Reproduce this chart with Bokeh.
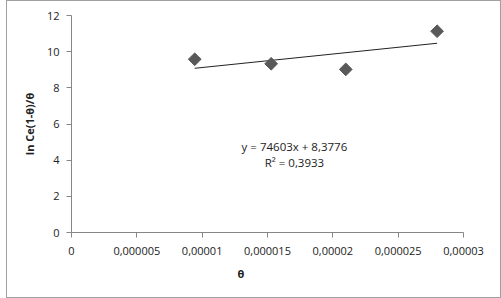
import numpy as np
from bokeh.plotting import figure
from bokeh.models import FixedTicker, Label, Range1d, Title
from bokeh.embed import file_html
from bokeh.resources import INLINE

# data
theta = [0.00000943, 0.00001528, 0.00002099, 0.00002798]
ln_ce = [9.58, 9.33, 9.02, 11.13]

# trendline as stated on the chart
slope = 74603
intercept = 8.3776
r2_text = "0,3933"
eq_text = "y = 74603x + 8,3776"

x_ticks = [0, 0.000005, 0.00001, 0.000015, 0.00002, 0.000025, 0.00003]
x_tick_labels = ["0", "0,000005", "0,00001", "0,000015", "0,00002", "0,000025", "0,00003"]
y_ticks = [0, 2, 4, 6, 8, 10, 12]

FONT = "Open Sans"
GRAY = "#868686"

p = figure(width=493, height=296, output_backend="svg", toolbar_location=None,
           x_range=Range1d(0, 0.00003), y_range=Range1d(0, 12),
           frame_width=392, frame_height=217,
           min_border_left=64, min_border_right=37, min_border_top=14, min_border_bottom=65)
p.margin = (0, 0, 0, 6)
p.styles = {"border": "1.5px solid #a0a0a0", "box-sizing": "border-box"}
p.outline_line_color = None
p.grid.visible = False
p.background_fill_color = "white"
p.border_fill_color = "white"

p.xaxis.ticker = FixedTicker(ticks=x_ticks)
p.xaxis.major_label_overrides = {t: l for t, l in zip(x_ticks, x_tick_labels)}
p.yaxis.ticker = FixedTicker(ticks=y_ticks)
for ax in (p.xaxis, p.yaxis):
    ax.axis_line_color = GRAY
    ax.major_tick_line_color = GRAY
    ax.major_tick_out = 5
    ax.major_tick_in = 0
    ax.minor_tick_line_color = None
    ax.major_label_text_font = FONT
    ax.major_label_text_font_size = "11px"
    ax.major_label_text_color = "#222222"
p.xaxis.major_label_standoff = 9
p.yaxis.major_label_standoff = 7

p.yaxis.axis_label = "ln Ce(1-θ)/θ"
p.yaxis.axis_label_text_font = FONT
p.yaxis.axis_label_text_font_size = "11px"
p.yaxis.axis_label_text_font_style = "bold"
p.yaxis.axis_label_text_color = "#222222"
p.yaxis.axis_label_standoff = 7

p.add_layout(Title(text="θ", align="left", offset=166, text_font=FONT,
                   text_font_size="11px", text_font_style="bold",
                   text_color="#222222", standoff=13), "below")

# trendline from the stated coefficients over the data span
xs = np.array([min(theta), max(theta)])
p.line(xs, slope * xs + intercept, line_color="#222222", line_width=1)

p.scatter(theta, ln_ce, marker="square", angle=np.pi / 4, size=9,
          fill_color="#595959", line_color="#595959")

p.add_layout(Label(x=0.00001706, y=4.75, text=eq_text, text_align="center",
                   text_baseline="middle", text_font=FONT, text_font_size="11.5px",
                   text_color="#222222"))
p.add_layout(Label(x=0.00001706, y=3.85, text="R² = " + r2_text, text_align="center",
                   text_baseline="middle", text_font=FONT, text_font_size="11.5px",
                   text_color="#222222"))

open("out.html", "w").write(file_html(p, INLINE))
